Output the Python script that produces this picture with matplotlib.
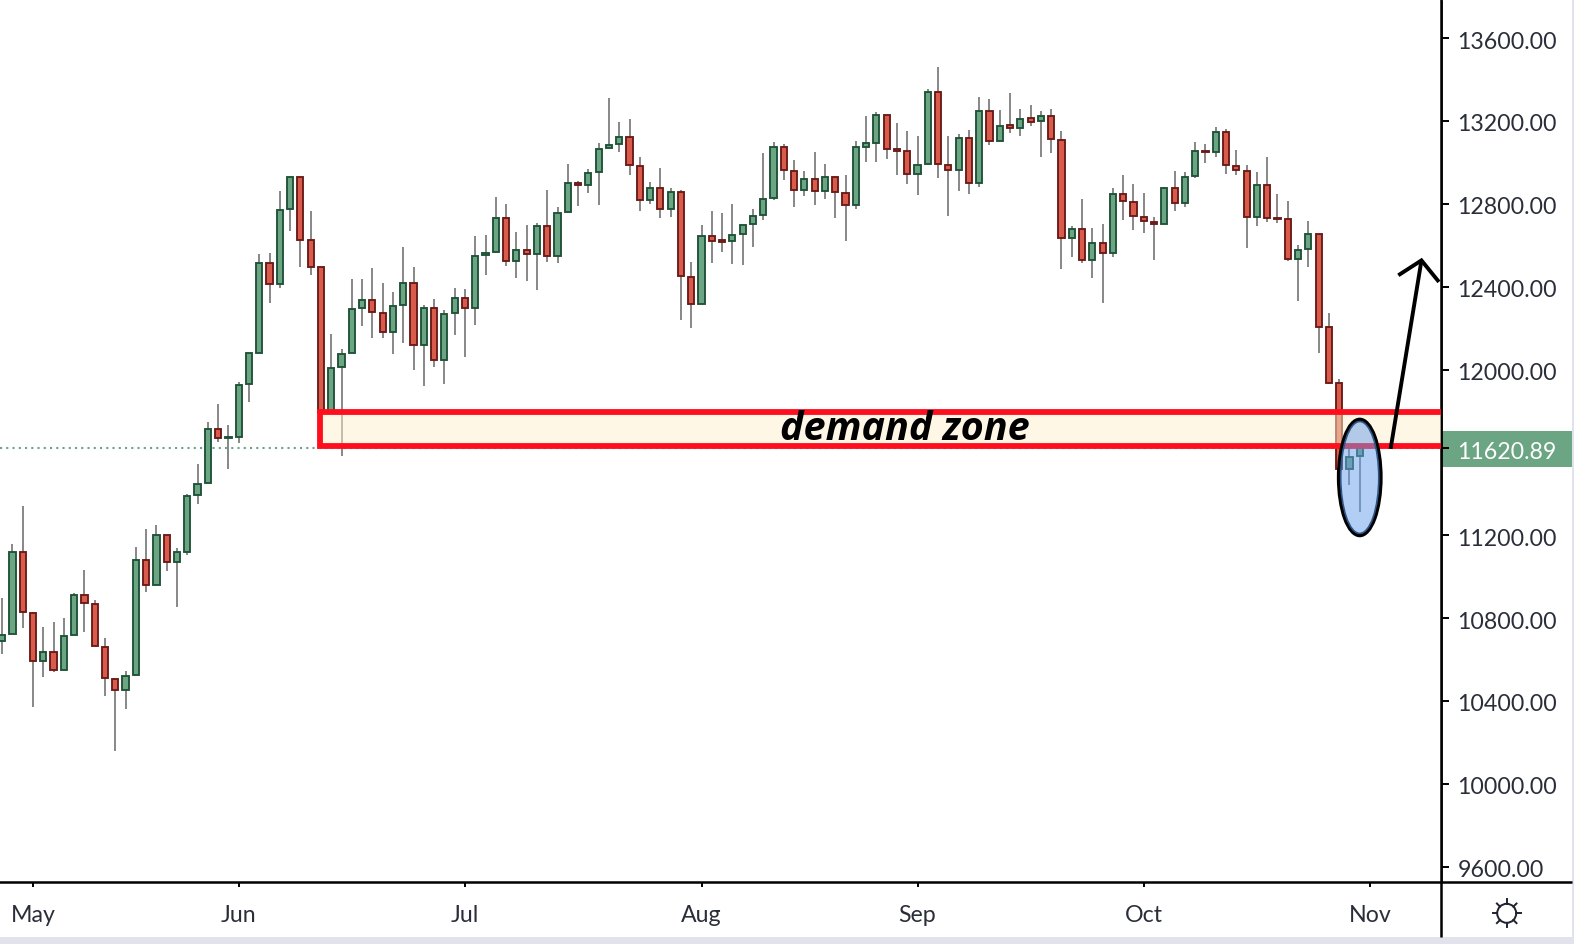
import matplotlib
matplotlib.use('Agg')
import matplotlib.pyplot as plt
from matplotlib.patches import Rectangle, Ellipse, Circle
from matplotlib.transforms import ScaledTranslation

plt.rcParams['font.family'] = ['Lato', 'DejaVu Sans']

# daily candles, bar 0 is the first bar of May
first_bar = -3
highs = [10897, 11156, 11341, 10828, 10757, 10781, 10799, 10920, 11032, 10886, 10704, 10509, 10545, 11143, 11230, 11250, 11203, 11137, 11398, 11543, 11745, 11832, 11731, 11938, 12078,
         12558, 12563, 12862, 12928, 12928, 12766, 12494, 12170, 12098, 12436, 12436, 12489, 12416, 12373, 12590, 12494, 12310, 12339, 12286, 12392, 12387, 12643, 12648, 12831, 12798,
         12662, 12696, 12706, 12865, 12783, 12991, 12909, 12967, 13092, 13309, 13194, 13208, 13025, 12904, 12971, 12875, 12865, 12518, 12696, 12764, 12754, 12798, 12700, 12774, 13044,
         13097, 13087, 13010, 12957, 13049, 12991, 12931, 12938, 13102, 13224, 13242, 13230, 13189, 13150, 13126, 13353, 13459, 13126, 13136, 13155, 13314, 13305, 13251, 13334, 13256,
         13276, 13247, 13256, 13150, 12691, 12822, 12682, 12701, 12875, 12938, 12894, 12851, 12735, 12880, 12957, 12952, 13097, 13087, 13169, 13160, 13058, 12986, 12952, 13025, 12846,
         12812, 12600, 12715, 12656, 12271, 11953, 11628, 11628]
lows = [10628, 10722, 10754, 10373, 10517, 10542, 10548, 10717, 10735, 10664, 10426, 10160, 10363, 10524, 10928, 10958, 11029, 10855, 11106, 11353, 11451, 11652, 11522, 11647, 11845,
        12078, 12321, 12394, 12669, 12495, 12457, 11789, 11797, 11584, 12078, 12212, 12154, 12154, 12077, 12130, 12000, 11922, 12014, 11932, 12168, 12062, 12217, 12458, 12566, 12502,
        12444, 12429, 12386, 12521, 12516, 12759, 12791, 12854, 12796, 13068, 13052, 12941, 12767, 12801, 12733, 12738, 12241, 12202, 12315, 12516, 12569, 12511, 12506, 12593, 12724,
        12820, 12917, 12786, 12840, 12796, 12825, 12733, 12622, 12777, 13004, 13004, 13018, 12941, 12897, 12844, 12991, 12926, 12743, 12864, 12849, 12883, 13086, 13102, 13140, 13129,
        13177, 13028, 13047, 12487, 12545, 12516, 12444, 12323, 12545, 12724, 12675, 12661, 12530, 12701, 12767, 12786, 12926, 12999, 13028, 12946, 12941, 12588, 12695, 12714, 12709,
        12526, 12332, 12497, 12081, 11932, 11518, 11443, 11314]
opens = [10690, 10722, 11121, 10826, 10591, 10638, 10548, 10717, 10913, 10870, 10662, 10508, 10451, 10524, 11082, 10958, 11203, 11069, 11121, 11393, 11451, 11715, 11668, 11673, 11929,
         12078, 12513, 12411, 12774, 12928, 12624, 12494, 11797, 12011, 12078, 12296, 12337, 12275, 12180, 12310, 12420, 12117, 12299, 12045, 12271, 12347, 12296, 12551, 12566, 12733,
         12522, 12579, 12556, 12695, 12547, 12759, 12902, 12889, 12952, 13068, 13087, 13124, 12984, 12817, 12878, 12774, 12859, 12448, 12315, 12646, 12624, 12619, 12653, 12701, 12745,
         12827, 13076, 12960, 12865, 12922, 12860, 12931, 12854, 12793, 13076, 13092, 13230, 13065, 13057, 12942, 12991, 13342, 12989, 12962, 13120, 12899, 13250, 13102, 13179, 13165,
         13213, 13198, 13226, 13110, 12634, 12680, 12527, 12613, 12561, 12849, 12811, 12738, 12714, 12701, 12878, 12802, 12933, 13057, 13049, 13148, 12984, 12960, 12735, 12892, 12733,
         12728, 12532, 12580, 12656, 12204, 11937, 11518, 11583]
closes = [10719, 11121, 10828, 10591, 10638, 10548, 10715, 10913, 10871, 10664, 10509, 10451, 10522, 11082, 10958, 11203, 11069, 11121, 11391, 11449, 11715, 11668, 11673, 11927, 12078,
          12513, 12411, 12772, 12928, 12624, 12494, 11789, 12009, 12077, 12294, 12337, 12276, 12180, 12308, 12420, 12117, 12299, 12045, 12270, 12347, 12296, 12550, 12564, 12733, 12522,
          12579, 12556, 12695, 12547, 12757, 12902, 12889, 12951, 13066, 13086, 13124, 12986, 12817, 12878, 12774, 12859, 12450, 12315, 12646, 12619, 12614, 12651, 12700, 12743, 12825,
          13076, 12962, 12865, 12922, 12860, 12931, 12856, 12793, 13076, 13092, 13230, 13063, 13057, 12942, 12989, 13342, 12991, 12962, 13120, 12899, 13250, 13102, 13177, 13165, 13211,
          13197, 13226, 13111, 12634, 12680, 12527, 12613, 12561, 12849, 12812, 12740, 12716, 12701, 12878, 12802, 12931, 13057, 13049, 13148, 12987, 12962, 12735, 12892, 12730, 12725,
          12532, 12579, 12656, 12204, 11937, 11518, 11580, 11620.89]

price_ticks = [9600, 10000, 10400, 10800, 11200, 12000, 12400, 12800, 13200, 13600]
month_bars = [0, 20, 42, 65, 86, 108, 130]
month_names = ['May', 'Jun', 'Jul', 'Aug', 'Sep', 'Oct', 'Nov']
last_price = 11620.89
zone_top = 11795
zone_bottom = 11633
arrow_bars = [132.0, 135.0]
arrow_prices = [11617, 12527]
head_bars = [132.75, 135.0, 136.7]
head_prices = [12455, 12527, 12423]

green = '#6ba583'
green_edge = '#1f5238'
red = '#d95b4b'
red_edge = '#6b1a18'
txt = '#2a2e39'
W, H = 1574, 944
axis_x, axis_y = 1441, 882.3

fig = plt.figure(figsize=(W / 100, H / 100), dpi=100)

# everything around the chart, in pixels
bg = fig.add_axes([0, 0, 1, 1], zorder=0)
bg.set_xlim(0, W)
bg.set_ylim(H, 0)
bg.axis('off')
bg.add_patch(Rectangle((1572, 0), 2, H, color='#e0e3eb', lw=0))
bg.add_patch(Rectangle((0, 937), W, 7, color='#e0e3eb', lw=0))
bg.add_patch(Rectangle((axis_x, 431), 131, 36, color=green, lw=0))
bg.plot([axis_x, axis_x], [0, 937], color='black', lw=1.8, solid_capstyle='butt')
bg.plot([axis_x, 1572], [axis_y, axis_y], color='black', lw=1.8, solid_capstyle='butt')

# settings icon
sun_x, sun_y = 1506.7, 913.3
bg.add_patch(Circle((sun_x, sun_y), 9.5, fill=False, ec='#1f2230', lw=1.4))
for dx, dy in [(0, -1), (0, 1), (-1, 0), (1, 0), (.7, .7), (-.7, .7), (.7, -.7), (-.7, -.7)]:
    bg.plot([sun_x + dx * 9.5, sun_x + dx * 14], [sun_y + dy * 9.5, sun_y + dy * 14], color='#1f2230', lw=1.4)

ax = fig.add_axes([0, 1 - axis_y / H, axis_x / W, axis_y / H], zorder=1)
ax.set_xlim(-3.209, 136.9)
ax.set_ylim(9524.6, 13784)

bars = list(range(first_bar, first_bar + len(opens)))
cols = [green if c >= o else red for o, c in zip(opens, closes)]
edges = [green_edge if c >= o else red_edge for o, c in zip(opens, closes)]

ax.axhline(last_price, color=green, lw=1.5, ls=(0, (1, 2)), zorder=1)
ax.vlines(bars, lows, highs, color='#737373', lw=1.2, zorder=2)
ax.bar(bars, [abs(c - o) for o, c in zip(opens, closes)], bottom=[min(o, c) for o, c in zip(opens, closes)],
       width=0.6, color=cols, edgecolor=edges, linewidth=1.35, zorder=3)

# drawings on top of the candles
ax.add_patch(Rectangle((27.95, zone_bottom), 120, zone_top - zone_bottom, facecolor=(1, 0.94, 0.80, 0.5),
                       edgecolor='#ff0f1e', lw=4.2, zorder=4))
ax.text(84.8, 11711, 'demand zone', ha='center', va='center', fontsize=28.5, fontweight='bold', fontstyle='italic',
        family='Open Sans', color='black', zorder=7)
ax.add_patch(Ellipse((129.0, 11479), 4.1, 560, facecolor=(0.40, 0.62, 0.92, 0.5), edgecolor='black', lw=2.6, zorder=5))
ax.add_patch(Ellipse((129.0, 11479), 3.7, 540, fill=False, edgecolor='#2f5688', lw=1.2, zorder=5))
ax.plot(arrow_bars, arrow_prices, color='black', lw=2.8, solid_capstyle='butt', zorder=6)
ax.plot(head_bars, head_prices, color='black', lw=2.8, solid_capstyle='butt', solid_joinstyle='miter', zorder=6)

ax.spines['top'].set_visible(False)
ax.spines['left'].set_visible(False)
ax.spines['right'].set_linewidth(1.8)
ax.spines['bottom'].set_linewidth(1.8)
ax.yaxis.tick_right()
ax.set_yticks(price_ticks + [last_price])
ax.set_yticklabels(['%.2f' % p for p in price_ticks] + ['%.2f' % last_price])
ax.tick_params(axis='y', length=5.8, width=1.4, pad=6, labelsize=16.7, labelcolor=txt)
ax.set_xticks(month_bars)
ax.set_xticklabels(month_names)
ax.tick_params(axis='x', length=3.6, width=1.4, pad=12.5, labelsize=16.7, labelcolor=txt)

# nudge the price labels down a touch, tag label goes white
nudge = ScaledTranslation(0, -1.4 / 72, fig.dpi_scale_trans)
for lab in ax.get_yticklabels():
    lab.set_transform(lab.get_transform() + nudge)
cur = ax.yaxis.get_major_ticks()[-1]
cur.label2.set_color('white')
cur.tick2line.set_color('white')

fig.savefig('out.png', dpi=100)
